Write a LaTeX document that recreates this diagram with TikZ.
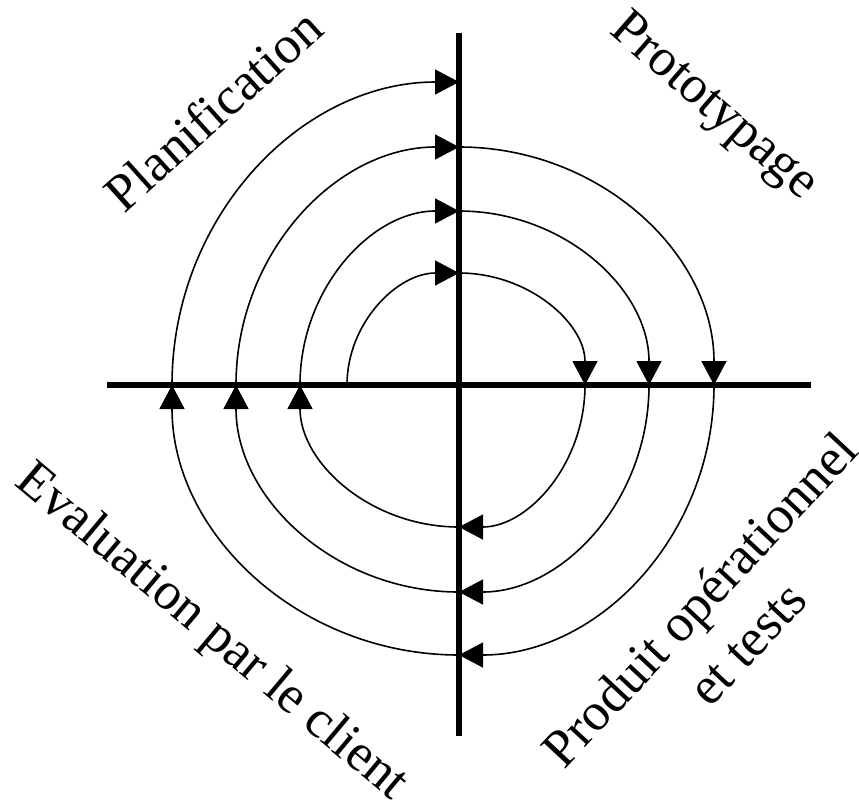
\documentclass[tikz,border=0pt]{standalone}
\usepackage{fontspec}
\setmainfont{Liberation Serif}
\usetikzlibrary{arrows.meta}
\begin{document}
\begin{tikzpicture}[x=1pt,y=1pt,
  axis/.style={line width=5.5pt},
  spiral/.style={line width=1.6pt,-{Triangle[length=24pt,width=25pt]}},
  lbl/.style={font=\fontsize{53}{64}\selectfont,inner sep=0pt,align=center}]
\useasboundingbox (0,0) rectangle (859,-807);
% axis ends
\coordinate (AW) at (107,-385);
\coordinate (AE) at (811,-385);
\coordinate (AN) at (459,-33);
\coordinate (AS) at (459,-736);
% crossing points of the spiral with the axes
\coordinate (L0) at (347,-385);
\coordinate (T1) at (459,-273);
\coordinate (R1) at (585,-385);
\coordinate (B1) at (459,-527);
\coordinate (L1) at (300,-385);
\coordinate (T2) at (459,-211);
\coordinate (R2) at (649,-385);
\coordinate (B2) at (459,-592);
\coordinate (L2) at (236,-385);
\coordinate (T3) at (459,-147);
\coordinate (R3) at (714,-385);
\coordinate (B3) at (459,-655);
\coordinate (L3) at (172,-385);
\coordinate (T4) at (459,-82);
% spiral
\draw[spiral] (L0) arc[start angle=180,end angle=90,x radius=112,y radius=112];
\draw[spiral] (T1) arc[start angle=90,end angle=0,x radius=126,y radius=112];
\draw[spiral] (R1) arc[start angle=0,end angle=-90,x radius=126,y radius=142];
\draw[spiral] (B1) arc[start angle=-90,end angle=-180,x radius=159,y radius=142];
\draw[spiral] (L1) arc[start angle=180,end angle=90,x radius=159,y radius=174];
\draw[spiral] (T2) arc[start angle=90,end angle=0,x radius=190,y radius=174];
\draw[spiral] (R2) arc[start angle=0,end angle=-90,x radius=190,y radius=207];
\draw[spiral] (B2) arc[start angle=-90,end angle=-180,x radius=223,y radius=207];
\draw[spiral] (L2) arc[start angle=180,end angle=90,x radius=223,y radius=238];
\draw[spiral] (T3) arc[start angle=90,end angle=0,x radius=255,y radius=238];
\draw[spiral] (R3) arc[start angle=0,end angle=-90,x radius=255,y radius=270];
\draw[spiral] (B3) arc[start angle=-90,end angle=-180,x radius=287,y radius=270];
\draw[spiral] (L3) arc[start angle=180,end angle=90,x radius=287,y radius=303];
% axes
\draw[axis] (AW) -- (AE);
\draw[axis] (AN) -- (AS);
% labels
\node[lbl,rotate=42] (plan) at (213,-110) {Planification};
\node[lbl,rotate=-41] (proto) at (713,-108) {Prototypage};
\node[lbl,rotate=-40] (eval) at (211,-633) {Evaluation par le client};
\node[lbl,rotate=47] (prod) at (723,-621) {Produit opérationnel\\et tests};
\end{tikzpicture}
\end{document}
